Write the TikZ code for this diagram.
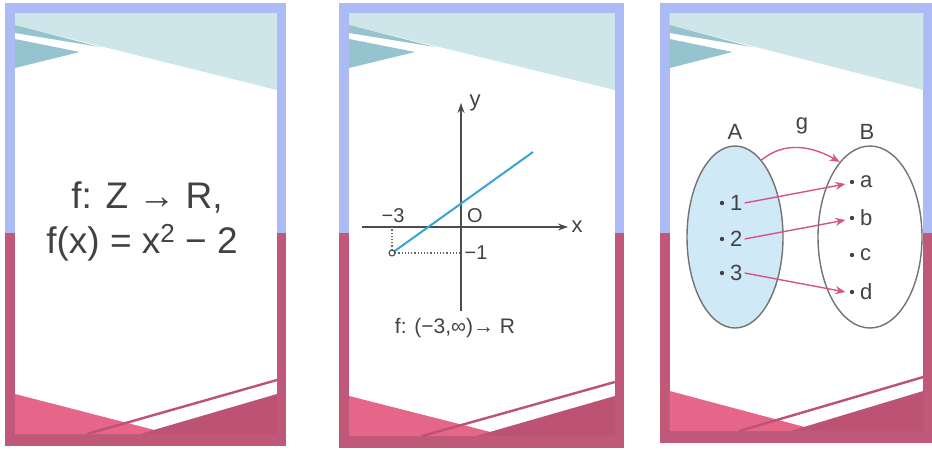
\documentclass[tikz,border=0pt]{standalone}
\usepackage{fontspec}
\setmainfont{Liberation Sans}
\definecolor{frameblue}{RGB}{172,186,246}
\definecolor{framered}{RGB}{192,88,122}
\definecolor{tealpale}{RGB}{206,230,233}
\definecolor{tealdark}{RGB}{150,196,206}
\definecolor{pinklight}{RGB}{230,102,138}
\definecolor{pinkdark}{RGB}{188,82,116}
\definecolor{inkgray}{RGB}{66,66,66}
\definecolor{setblue}{RGB}{208,233,247}
\definecolor{arrowpink}{RGB}{214,84,136}
\definecolor{plotblue}{RGB}{58,162,214}
\usetikzlibrary{shapes.geometric,arrows.meta,positioning}

\begin{document}
\begin{tikzpicture}[x=0.5pt, y=-0.5pt, font=\fontsize{10}{12}\selectfont, text=inkgray,
    dot/.style={circle, fill=inkgray, inner sep=0pt, minimum size=2.2pt},
    maparrow/.style={arrowpink, line width=0.7pt, -{Stealth[length=5pt,width=4pt]}},
    axis/.style={black!70, line width=0.6pt, -{Stealth[length=5pt,width=3.5pt]}}]
  \useasboundingbox (0,0) rectangle (932,450);
  % Slide frames
  \foreach \x/\w/\yb in {5/281/446, 339/285/448, 660/272/443}{
    \begin{scope}[shift={(\x,0)}, xscale=\w/281]
      \fill[frameblue] (0,3) rectangle (281,233);
      \fill[framered] (0,233) rectangle (281,\yb);
      \fill[white] (10,13) rectangle (272,\yb-12);
      % top corner
      \fill[tealpale] (10,13) -- (272,13) -- (272,90) -- (95,46) -- (10,25) -- cycle;
      \fill[tealdark] (10,25) -- (95,47) -- (10,33) -- cycle;
      \fill[tealdark] (10,39) -- (75,52) -- (10,68) -- cycle;
      % bottom corner
      \begin{scope}[shift={(0,\yb-446)}]
        \fill[pinklight] (10,394) -- (165,434) -- (10,434) -- cycle;
        \fill[pinkdark] (135,434) -- (272,394) -- (272,434) -- cycle;
        \draw[pinkdark, line width=1.2pt] (82,434) -- (272,380);
      \end{scope}
    \end{scope}
  }

  % Panel 1: the rule
  \node[font=\fontsize{18.5}{22}\selectfont] (map) at (147,197) {f: Z → R,};
  \node[font=\fontsize{18.5}{22}\selectfont] (rule) at (142,243)
    {f(x) = x\raisebox{0.55ex}{\fontsize{13}{15}\selectfont 2} − 2};

  % Panel 2: the graph
  \coordinate (O) at (461,227);
  \coordinate (xfrom) at (362,227);
  \coordinate (xto) at (568,227);
  \coordinate (yfrom) at (461,311);
  \coordinate (yto) at (461,103);
  \coordinate (P) at (392,253);
  \coordinate (Q) at (533,152);
  \draw[axis] (xfrom) -- (xto);
  \draw[axis] (yfrom) -- (yto);
  \draw[black!60, densely dotted, line width=0.6pt] (P) -- (P -| O);
  \draw[black!60, densely dotted, line width=0.6pt] (P) -- (P |- O);
  \draw[plotblue, line width=1pt] (P) -- (Q);
  \node[circle, draw=inkgray, fill=white, inner sep=0pt, minimum size=3pt, line width=0.5pt] (hole) at (P) {};
  \node[font=\fontsize{11}{13}\selectfont] (xname) at (577,227) {x};
  \node[font=\fontsize{11}{13}\selectfont] (yname) at (475,103) {y};
  \node (origin) at (475,216) {O};
  \node (mthree) at (393,216) {−3};
  \node (mone) at (476,253) {−1};
  \node[font=\fontsize{10.5}{12}\selectfont] (domain) at (455,328) {f: (−3,∞)→ R};

  % Panel 3: arrow diagram
  \node[ellipse, draw=black!55, fill=setblue, line width=0.7pt,
        minimum width=48pt, minimum height=91pt] (setA) at (735,237) {};
  \node[ellipse, draw=black!55, line width=0.7pt,
        minimum width=52pt, minimum height=91pt] (setB) at (870,237) {};
  \node[font=\fontsize{11}{13}\selectfont] (nameA) at (735,132) {A};
  \node[font=\fontsize{11}{13}\selectfont] (nameB) at (867,132) {B};
  \node[font=\fontsize{11}{13}\selectfont] (nameg) at (802,126) {g};
  \foreach \n/\y in {1/203, 2/239, 3/273}{
    \node[dot] (a\n) at (722,\y) {};
    \node[right=1.5pt of a\n, inner sep=1pt, font=\fontsize{11}{13}\selectfont] (num\n) {\n};
  }
  \foreach \n/\y in {a/182, b/218, c/255, d/292}{
    \node[dot] (b\n) at (852,\y) {};
    \node[right=1.5pt of b\n, inner sep=1pt, font=\fontsize{11}{13}\selectfont] (let\n) {\n};
  }
  \draw[maparrow] (num1.east) -- ([xshift=-2pt,yshift=-1pt]ba.west);
  \draw[maparrow] (num2.east) -- ([xshift=-2pt,yshift=-1pt]bb.west);
  \draw[maparrow] (num3.east) -- ([xshift=-2pt]bd.west);
  \draw[maparrow] (setA.71) to[out=40, in=150] (setB.112);
\end{tikzpicture}
\end{document}
